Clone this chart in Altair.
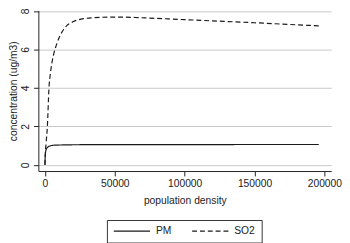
import altair as alt
import pandas as pd

# Population density (x) and modelled concentrations (y)
so2_x = [0, 300, 800, 1750, 2900, 4000, 5000, 6400, 7600, 9000, 11000, 13000,
         15800, 20400, 27500, 35000, 45000, 55000, 65000, 75000, 100000,
         125000, 150000, 175000, 196000]
so2_y = [0, 0.6, 1.1, 2.0, 4.0, 4.8, 5.3, 5.8, 6.1, 6.4, 6.75, 7.0,
         7.25, 7.45, 7.6, 7.65, 7.68, 7.68, 7.66, 7.63, 7.55,
         7.47, 7.39, 7.3, 7.23]

pm_x = [0, 150, 300, 600, 1000, 1750, 2500, 4000, 6000, 9000, 15000, 30000,
        60000, 100000, 150000, 196000]
pm_y = [0, 0.35, 0.55, 0.72, 0.82, 0.9, 0.95, 0.99, 1.02, 1.03, 1.04, 1.05,
        1.05, 1.05, 1.06, 1.06]

series = ["PM", "SO2"]
x_ticks = [0, 50000, 100000, 150000, 200000]
y_ticks = [0, 2, 4, 6, 8]

rows = []
for xv, yv in zip(pm_x, pm_y):
    rows.append({"density": xv, "conc": yv, "series": series[0]})
for xv, yv in zip(so2_x, so2_y):
    rows.append({"density": xv, "conc": yv, "series": series[1]})
df = pd.DataFrame(rows)

FONT = "Liberation Sans"

chart = alt.Chart(df).mark_line(
    color="#1a1a1a", strokeWidth=1.2, interpolate="monotone", clip=True
).encode(
    x=alt.X(
        "density:Q",
        scale=alt.Scale(domain=[-4700, 204900], nice=False, zero=False),
        axis=alt.Axis(
            values=x_ticks, format="d", title="population density",
            grid=False, tickSize=5, labelPadding=3, titlePadding=7,
        ),
    ),
    y=alt.Y(
        "conc:Q",
        scale=alt.Scale(domain=[-0.32, 8.03], nice=False, zero=False),
        axis=alt.Axis(
            values=y_ticks, title="concentration (ug/m3)", grid=True,
            tickSize=5, labelAngle=270, labelPadding=3, titlePadding=2,
        ),
    ),
    strokeDash=alt.StrokeDash(
        "series:N",
        scale=alt.Scale(domain=series, range=[[1, 0], [5, 3]]),
        legend=alt.Legend(
            title=None, orient="none", direction="horizontal",
            legendX=70, legendY=214, symbolType="stroke",
            symbolSize=1369, symbolStrokeWidth=1.2, symbolStrokeColor="#1a1a1a",
            clipHeight=10,
            labelOffset=5, columnPadding=20, padding=6,
            strokeColor="#333333", fillColor="white",
        ),
    ),
).properties(
    width=299, height=164,
    padding={"left": 31, "top": 0, "right": 11, "bottom": 71},
    autosize=alt.AutoSizeParams(type="none"),
).configure_view(
    stroke=None
).configure_axis(
    labelFont=FONT, titleFont=FONT, labelFontSize=10.5, titleFontSize=10.5,
    labelColor="#222222", titleColor="#222222", titleFontWeight="normal",
    domainColor="#222222", tickColor="#222222", gridColor="#c8c8c8",
    gridWidth=1,
).configure_legend(
    labelFont=FONT, labelFontSize=10.5, labelColor="#222222",
)

chart.save("out.html", embed_options={"renderer": "svg", "actions": False})
